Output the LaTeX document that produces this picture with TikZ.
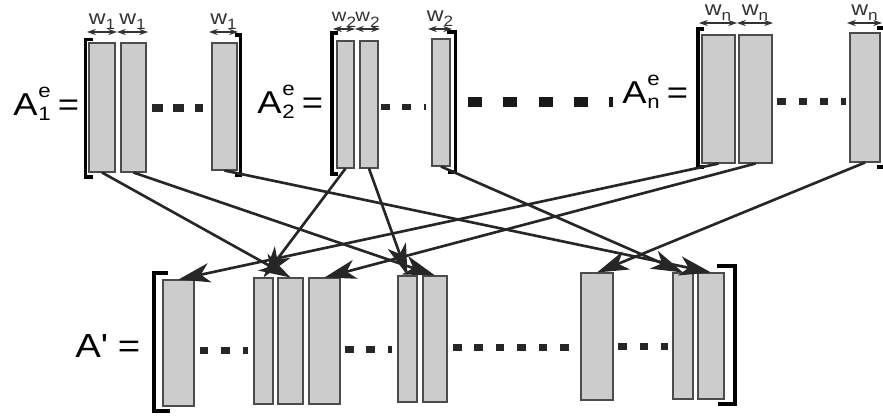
\documentclass[tikz,border=0pt]{standalone}
\usepackage{fontspec}
\setmainfont{Liberation Sans}[FakeStretch=1.15]
\usetikzlibrary{arrows.meta, fit}
\tikzset{>=stealth}
\tikzset{
  colbox/.style={draw=black!70, fill=black!20, line width=0.6pt, inner sep=0pt},
  link/.style={-{Stealth[length=18pt, width=11pt, inset=5pt]}, line width=1.5pt, black!85},
  brak/.style={line width=2pt, line join=miter},
  dim/.style={{Stealth[length=5pt, width=3.5pt]}-{Stealth[length=5pt, width=3.5pt]}, line width=0.6pt, black!80},
  wl/.style={above, inner sep=1pt, font=\fontsize{11.5}{12}\selectfont},
  big/.style={inner sep=0pt, anchor=base west, font=\fontsize{18}{20}\selectfont},
  dotrow/.style={line width=0.14cm, dash pattern=on 0.17cm off 0.26cm, black!85},
  bigdot/.style={line width=0.2cm, dash pattern=on 0.28cm off 0.426cm, black!90},
}
% A with e on top and an index below, then "="
\newcommand\Ae[1]{A\kern0.5pt\rlap{\raisebox{0.55em}{\fontsize{11}{11}\selectfont e}}\raisebox{-0.16em}{\fontsize{11}{11}\selectfont #1}\kern4pt=}
\newcommand\wsub[1]{w\raisebox{-3.2pt}{\fontsize{8.5}{8.5}\selectfont #1}}

\begin{document}
\begin{tikzpicture}[x=0.02cm, y=-0.02cm]
\useasboundingbox (0,0) rectangle (883,419);

% left hand sides
\node[big] (la1) at (13,115) {\Ae{1}};
\node[big] (la2) at (257,113) {\Ae{2}};
\node[big] (lan) at (622,103) {\Ae{n}};
\node[big, font=\fontsize{19}{21}\selectfont] (lb) at (75,357) {A\textquotesingle\ =};

% columns of A_1^e
\node[colbox, fit={(89,43) (115,172)}] (a1c1) {};
\node[colbox, fit={(121,43) (146,172)}] (a1c2) {};
\node[colbox, fit={(212,43) (237,170)}] (a1c3) {};
% columns of A_2^e
\node[colbox, fit={(337,41) (354,168)}] (a2c1) {};
\node[colbox, fit={(360,41) (378,168)}] (a2c2) {};
\node[colbox, fit={(432,39) (450,166)}] (a2c3) {};
% columns of A_n^e
\node[colbox, fit={(702,35) (735,163)}] (anc1) {};
\node[colbox, fit={(739,35) (772,163)}] (anc2) {};
\node[colbox, fit={(850,33) (880,162)}] (anc3) {};
% columns of A'
\node[colbox, fit={(163,280) (194,406)}] (b1) {};
\node[colbox, fit={(254,278) (273,404)}] (b2) {};
\node[colbox, fit={(278,278) (303,404)}] (b3) {};
\node[colbox, fit={(309,278) (340,404)}] (b4) {};
\node[colbox, fit={(398,276) (417,402)}] (b5) {};
\node[colbox, fit={(423,276) (447,402)}] (b6) {};
\node[colbox, fit={(581,273) (613,400)}] (b7) {};
\node[colbox, fit={(673,273) (693,399)}] (b8) {};
\node[colbox, fit={(698,273) (724,399)}] (b9) {};

% brackets
\draw[brak] (93,39.5) -- (85.5,39.5) -- (85.5,177) -- (93,177);
\draw[brak] (235,35) -- (240.5,35) -- (240.5,175) -- (235,175);
\draw[brak] (338,33) -- (332,33) -- (332,174) -- (338,174);
\draw[brak] (447,32) -- (455.5,32) -- (455.5,172) -- (448,172);
\draw[brak] (704,29) -- (698,29) -- (698,167) -- (704,167);
\draw[brak] (877,28) -- (885,28) -- (885,167) -- (877,167);
\draw[brak] (168,273) -- (154,273) -- (154,411) -- (170,411);
\draw[brak] (717,266) -- (735,266) -- (735,404) -- (718,404);

% widths
\draw[dim] (87,32) -- node[wl] {\wsub{1}} (117,32);
\draw[dim] (117,32) -- node[wl] {\wsub{1}} (148,32);
\draw[dim] (209,32) -- node[wl] {\wsub{1}} (238,32);
\draw[dim] (333,29) -- node[wl, font=\fontsize{10}{11}\selectfont, inner sep=0.5pt] {\wsub{2}} (355,29);
\draw[dim] (355,29) -- node[wl, font=\fontsize{10}{11}\selectfont, inner sep=0.5pt] {\wsub{2}} (380,29);
\draw[dim] (428,29) -- node[wl] {\wsub{2}} (452,29);
\draw[dim] (699,23) -- node[wl] {\wsub{n}} (737,23);
\draw[dim] (737,23) -- node[wl] {\wsub{n}} (773,23);
\draw[dim] (847,23) -- node[wl] {\wsub{n}} (882,23);

% dots
\draw[dotrow, line width=0.16cm, dash pattern=on 0.22cm off 0.21cm] (152,108) -- (203,108);
\draw[dotrow, line width=0.11cm] (381,107) -- (426,107);
\draw[bigdot] (468,102) -- (613,102);
\draw[dotrow] (777,101.5) -- (846,101.5);
\draw[dotrow] (200,350.5) -- (248,350.5);
\draw[dotrow] (345,349) -- (392,349);
\draw[dotrow] (453,347) -- (570,347);
\draw[dotrow] (618,346) -- (668,346);

% where the columns go
\draw[link] (a1c1.south) -- (b3.north);
\draw[link] (a1c2.south) -- (b6.north);
\draw[link] (a1c3.south) -- (b9.north);
\draw[link] (a2c1.south) -- (b2.north);
\draw[link] (a2c2.south) -- (b5.north);
\draw[link] (a2c3.south) -- (b8.north);
\draw[link] (anc1.south) -- (b1.north);
\draw[link] (anc2.south) -- (b4.north);
\draw[link] (anc3.south) -- (b7.north);
\end{tikzpicture}
\end{document}
